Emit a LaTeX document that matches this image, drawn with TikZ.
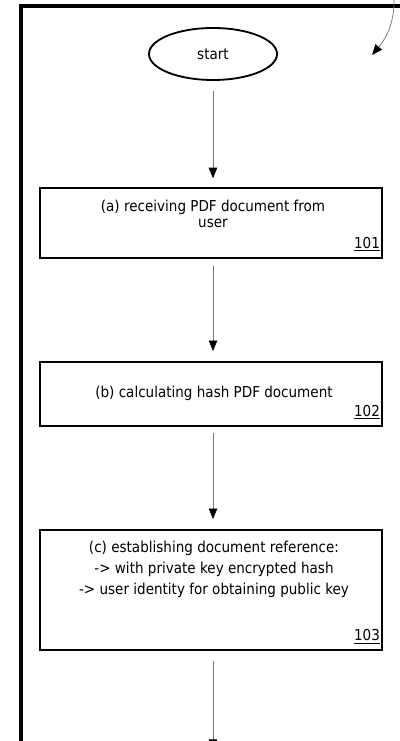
\documentclass[tikz,border=0pt]{standalone}
\usepackage{fontspec}
\setmainfont{DejaVu Sans Condensed}
\usetikzlibrary{arrows.meta, positioning, shapes.geometric}

\begin{document}
\begin{tikzpicture}[
x=0.025cm, y=-0.025cm,
>={Triangle[width=6pt,length=7.5pt,color=black]},
every node/.style={font=\fontsize{10.7}{11.6}\selectfont},
stepbox/.style={draw, line width=1.3pt, minimum width=8.55cm},
steptext/.style={align=center, inner sep=0pt},
refno/.style={anchor=south east, inner xsep=2pt, inner ysep=5pt},
flow/.style={->, draw=black!55, line width=0.5pt},
]
\useasboundingbox (0,0) rectangle (400,741);
% frame
\draw[line width=2.2pt] (21,741) -- (21,6) -- (400,6);
\coordinate (tail) at (394,-4);
\coordinate (head) at (372,55);
\draw[flow] (tail) to[out=-88,in=50] (head);

% nodes
\node[ellipse, draw, line width=1.3pt, minimum width=3.2cm, minimum height=1.3cm] (start) at (213,54) {start};
\node[stepbox, minimum height=1.75cm] (a) at (211,223) {};
\node[steptext] (ta) at (213,214) {(a) receiving PDF document from\\user};
\node[refno] (na) at (a.south east) {\underline{101}};

\node[stepbox, minimum height=1.6cm] (b) at (211,394) {};
\node[steptext] (tb) at (214,393) {(b) calculating hash PDF document};
\node[refno] (nb) at (b.south east) {\underline{102}};

\node[stepbox, minimum height=3cm] (c) at (211,590) {};
\node[steptext] (tc) at (214,569) {(c) establishing document reference:\\[3.3pt]
-> with private key encrypted hash\\[3.3pt]
-> user identity for obtaining public key};
\node[refno] (nc) at (c.south east) {\underline{103}};
\coordinate (next) at (213,750);

% arrows
\draw[flow, shorten <=0.25cm, shorten >=0.22cm] (start) -- (start |- a.north);
\draw[flow, shorten <=0.18cm, shorten >=0.25cm] (start |- a.south) -- (start |- b.north);
\draw[flow, shorten <=0.15cm, shorten >=0.25cm] (start |- b.south) -- (start |- c.north);
\draw[flow, shorten <=0.25cm] (start |- c.south) -- (next);
\end{tikzpicture}
\end{document}
